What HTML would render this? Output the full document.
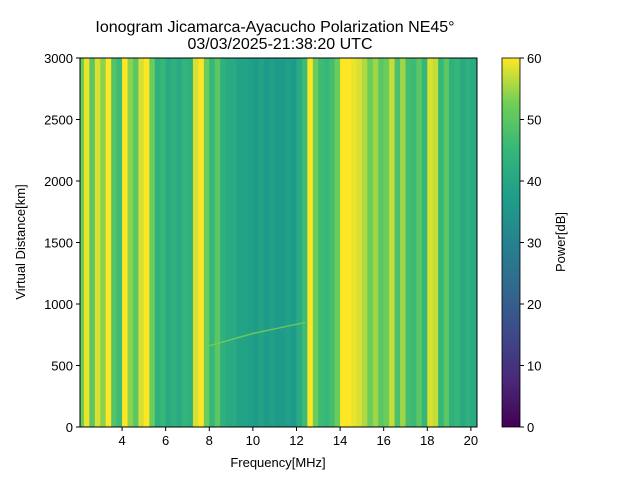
<!DOCTYPE html>
<html><head><meta charset="utf-8"><style>
body{margin:0;background:#fff;}
svg text{font-family:"Liberation Sans","DejaVu Sans",sans-serif;fill:#000;}
</style></head><body>
<svg id="chart" width="640" height="480" xmlns="http://www.w3.org/2000/svg">
<text x="275" y="32" font-size="16" text-anchor="middle">Ionogram Jicamarca-Ayacucho Polarization NE45°</text>
<text x="280" y="49" font-size="16" text-anchor="middle">03/03/2025-21:38:20 UTC</text>
<g id="heat"></g>
<g id="trace"></g>
<rect x="80" y="58" width="397" height="369" fill="none" stroke="#000" stroke-width="1"/>
<g id="xaxis"></g>
<g id="yaxis"></g>
<text x="278" y="467" font-size="13" text-anchor="middle">Frequency[MHz]</text>
<text x="0" y="0" font-size="13" text-anchor="middle" transform="translate(25,242) rotate(-90)">Virtual Distance[km]</text>
<defs><linearGradient id="vir" x1="0" y1="1" x2="0" y2="0">
<stop offset="0" stop-color="#440154"/><stop offset="0.125" stop-color="#482878"/><stop offset="0.25" stop-color="#3e4989"/><stop offset="0.375" stop-color="#31688e"/><stop offset="0.5" stop-color="#26828e"/><stop offset="0.625" stop-color="#1f9e89"/><stop offset="0.75" stop-color="#35b779"/><stop offset="0.875" stop-color="#6ece58"/><stop offset="1" stop-color="#fde725"/></linearGradient></defs>
<rect x="502" y="58" width="18" height="369" fill="url(#vir)" stroke="#000" stroke-width="0.8"/>
<g id="cbaxis"></g>
<text x="0" y="0" font-size="13" text-anchor="middle" transform="translate(565,242) rotate(-90)">Power[dB]</text>
</svg>
<script>
const freqStart = 2.0;
const binWidth = 0.25;
const powerBins = [52,59,50,58,54,60,49,46,60,54,50,58,60,52,43,45,41,43,41,44,43,58,60,52,45,50,43,41,41,39,39,38,37,39,37,38,36,37,38,37,41,46,60,52,46,45,47,52,60,60,59,58,56,52,55,50,52,57,48,55,47,46,50,45,58,57,45,50,43,45,41,43,41,43];
const traceFreq = [8.0, 10.0, 12.4];
const traceDist = [660, 760, 850];
const xTicks = [4,6,8,10,12,14,16,18,20];
const yTicks = [0,500,1000,1500,2000,2500,3000];
const cTicks = [0,10,20,30,40,50,60];
const X0=80,X1=477,Y0=427,Y1=58,FMIN=2.07,FMAX=20.28,DMAX=3000;
const xs=f=>X0+(f-FMIN)/(FMAX-FMIN)*(X1-X0);
const ys=d=>Y0-d/DMAX*(Y0-Y1);
const cs=p=>427-p/60*369;
const stops=[[68,1,84],[72,40,120],[62,73,137],[49,104,142],[38,130,142],[31,158,137],[53,183,121],[110,206,88],[253,231,37]];
function vir(p){let t=Math.max(0,Math.min(1,p/60))*8;let i=Math.min(7,Math.floor(t)),f=t-i;const a=stops[i],b=stops[i+1];return `rgb(${a.map((v,k)=>Math.round(v+(b[k]-v)*f)).join(',')})`;}
const NS='http://www.w3.org/2000/svg';
function mk(tag,attrs,parent){const e=document.createElementNS(NS,tag);for(const k in attrs)e.setAttribute(k,attrs[k]);parent.appendChild(e);return e;}
const heat=document.getElementById('heat');
powerBins.forEach((p,i)=>{
  const f0=Math.max(FMIN,freqStart+i*binWidth),f1=Math.min(FMAX,freqStart+(i+1)*binWidth);
  if(f1<=f0)return;
  const r=mk('rect',{x:xs(f0),y:Y1,width:xs(f1)-xs(f0)+0.5,height:Y0-Y1,fill:vir(p)},heat);
  
  
});
const tr=document.getElementById('trace');
const pl=mk('polyline',{points:traceFreq.map((f,i)=>xs(f)+','+ys(traceDist[i])).join(' '),fill:'none',stroke:'#7ad151',"stroke-width":1.5,"stroke-opacity":0.8},tr);


const xa=document.getElementById('xaxis');
xTicks.forEach(v=>{const x=xs(v);
  const l=mk('line',{x1:x,x2:x,y1:Y0,y2:Y0+4,stroke:'#000'},xa);
  
  const t=mk('text',{x:x,y:Y0+18,"font-size":13,"text-anchor":"middle"},xa);t.textContent=v;
  });
const ya=document.getElementById('yaxis');
yTicks.forEach(v=>{const y=ys(v);
  const l=mk('line',{x1:X0-4,x2:X0,y1:y,y2:y,stroke:'#000'},ya);
  
  const t=mk('text',{x:X0-7,y:y+5,"font-size":13,"text-anchor":"end"},ya);t.textContent=v;
  });
const ca=document.getElementById('cbaxis');
cTicks.forEach(v=>{const y=cs(v);
  const l=mk('line',{x1:520,x2:524,y1:y,y2:y,stroke:'#000'},ca);
  
  const t=mk('text',{x:527,y:y+5,"font-size":13},ca);t.textContent=v;
  });
</script>
</body></html>
